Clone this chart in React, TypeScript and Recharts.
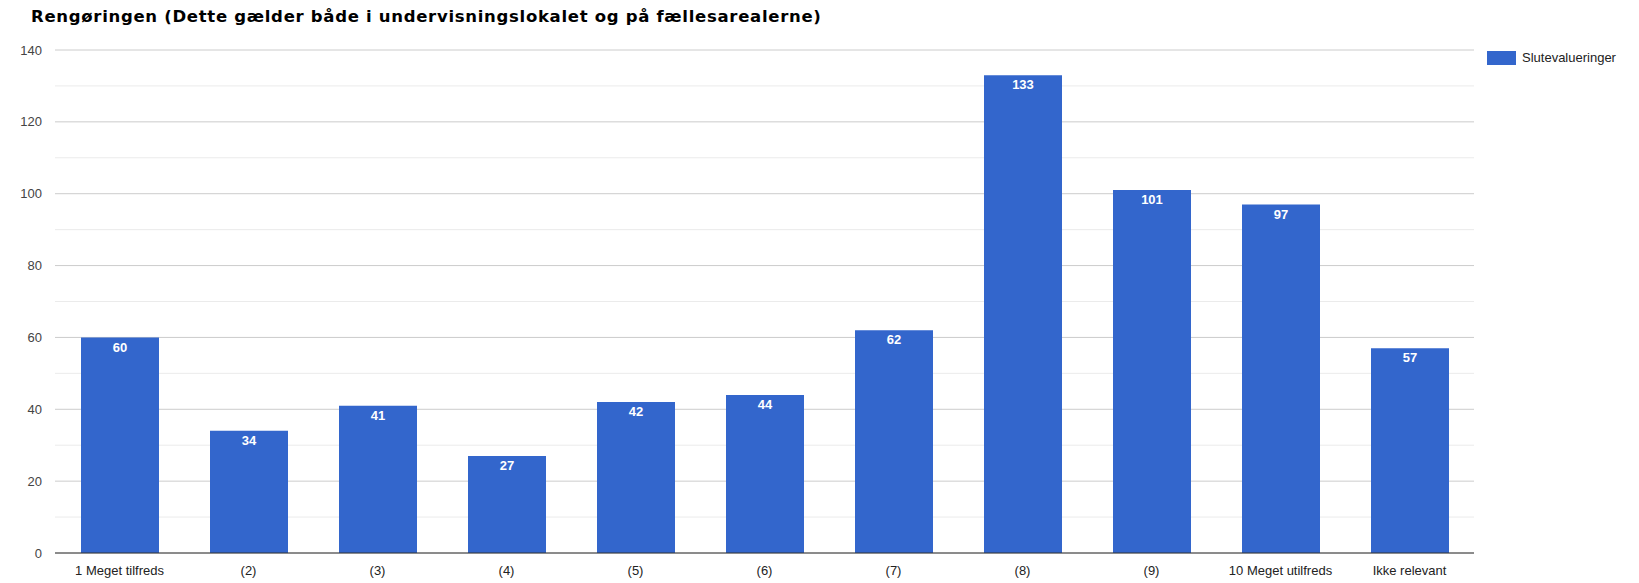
import React from 'react';
import { BarChart, Bar, XAxis, YAxis, CartesianGrid, LabelList } from 'recharts';

const categories = ['1 Meget tilfreds', '(2)', '(3)', '(4)', '(5)', '(6)', '(7)', '(8)', '(9)', '10 Meget utilfreds', 'Ikke relevant'];
const values = [60, 34, 41, 27, 42, 44, 62, 133, 101, 97, 57];
// gridlines every 10, labels only on every 20
const yTicks = [0, 10, 20, 30, 40, 50, 60, 70, 80, 90, 100, 110, 120, 130, 140];
const labelledTicks = [0, 20, 40, 60, 80, 100, 120, 140];

const seriesName = 'Slutevalueringer';
const title = 'Rengøringen (Dette gælder både i undervisningslokalet og på fællesarealerne)';

const data = categories.map((c, i) => ({ name: c, value: values[i] }));

const font = '"Liberation Sans", Arial, sans-serif';

const gridLine = (props: any) => {
    const major = labelledTicks.includes(yTicks[props.index]);
    return (
        <line
            key={props.key ?? props.index}
            x1={props.x1}
            y1={props.y1}
            x2={props.x2}
            y2={props.y2}
            stroke={major ? '#cccccc' : '#ebebeb'}
            strokeWidth={1}
        />
    );
};

const App: React.FC = () => {
    return (
        <div style={{ position: 'absolute', left: 0, top: 0, width: 1639, height: 583, background: '#fff' }}>
            <div style={{ position: 'absolute', left: 31, top: 7, fontFamily: '"DejaVu Sans", Verdana, sans-serif', fontWeight: 'bold', fontSize: 16.5, letterSpacing: 0.7, color: '#000', whiteSpace: 'nowrap' }}>
                {title}
            </div>
            <div style={{ position: 'absolute', left: 1487, top: 50, display: 'flex', alignItems: 'center', fontFamily: font, fontSize: 13, color: '#222' }}>
                <div style={{ width: 29, height: 14, background: '#3366cc', marginRight: 6 }} />
                <span>{seriesName}</span>
            </div>
            <BarChart
                width={1639}
                height={583}
                data={data}
                margin={{ top: 50, right: 165, left: 0, bottom: 0 }}
                barSize={78}
            >
                <CartesianGrid vertical={false} horizontal={gridLine} />
                <XAxis
                    dataKey="name"
                    height={30}
                    interval={0}
                    tickLine={false}
                    tickSize={0}
                    tickMargin={13}
                    axisLine={{ stroke: '#333', strokeWidth: 1 }}
                    tick={{ fill: '#222', fontSize: 13, fontFamily: font }}
                />
                <YAxis
                    width={55}
                    domain={[0, 140]}
                    ticks={yTicks}
                    interval={0}
                    tickFormatter={(v: number) => (labelledTicks.includes(v) ? String(v) : '')}
                    axisLine={false}
                    tickLine={false}
                    tickSize={0}
                    tickMargin={13}
                    tick={{ fill: '#444', fontSize: 13, fontFamily: font }}
                />
                <Bar dataKey="value" name={seriesName} fill="#3366cc" isAnimationActive={false}>
                    <LabelList
                        dataKey="value"
                        position="insideTop"
                        offset={5}
                        fill="#fff"
                        style={{ fontFamily: font, fontSize: 13, fontWeight: 'bold' }}
                    />
                </Bar>
            </BarChart>
        </div>
    );
};

export default App;
